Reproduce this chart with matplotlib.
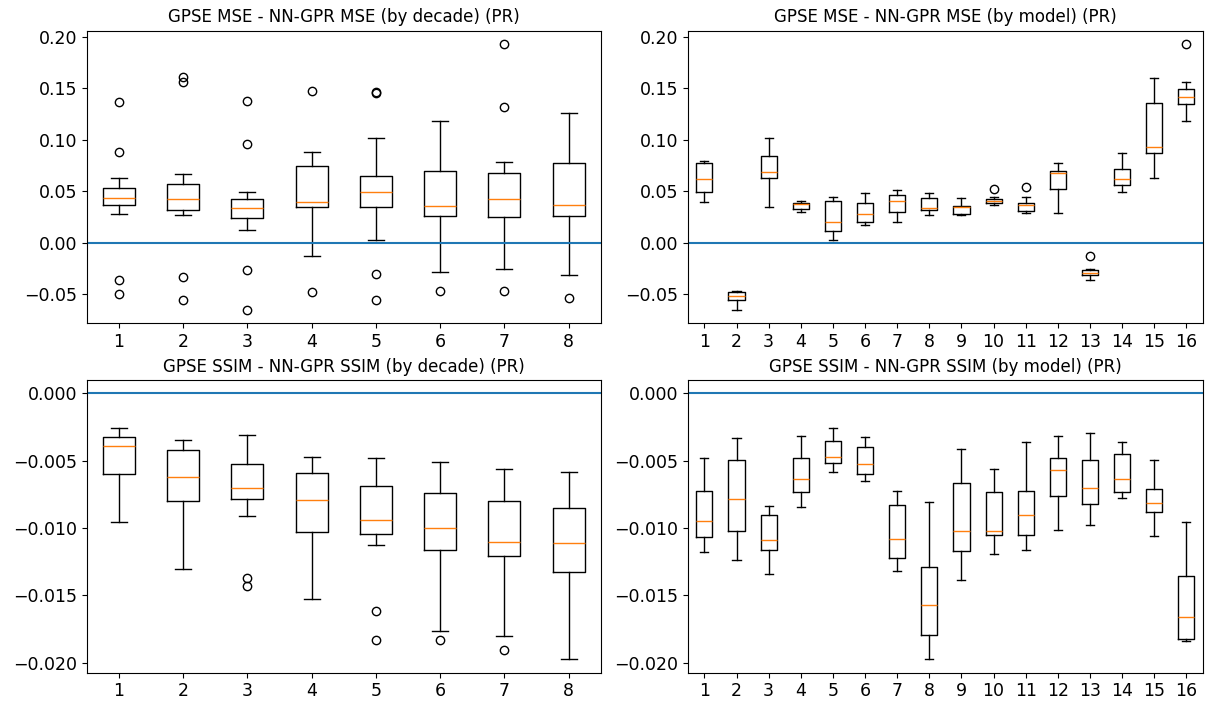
import matplotlib
matplotlib.use("Agg")
import matplotlib.pyplot as plt

# ---- data (whislo, q1, med, q3, whishi) ----
mse_decade_stats = [
    (0.0277, 0.0364, 0.0432, 0.0528, 0.0634),
    (0.0267, 0.0316, 0.0422, 0.0567, 0.0667),
    (0.0122, 0.0238, 0.0335, 0.0422, 0.0490),
    (-0.0129, 0.0351, 0.0393, 0.0741, 0.0886),
    (0.0029, 0.0351, 0.0490, 0.0644, 0.1014),
    (-0.0283, 0.0264, 0.0354, 0.0702, 0.1185),
    (-0.0254, 0.0254, 0.0422, 0.0673, 0.0789),
    (-0.0312, 0.0264, 0.0364, 0.0779, 0.1262),
]
mse_decade_fliers = [
    [0.1369, 0.0886, -0.0357, -0.0496],
    [0.1607, 0.1559, -0.0329, -0.0554],
    [0.1378, 0.0963, -0.0261, -0.0651],
    [0.1475, -0.0477],
    [0.1465, 0.1456, -0.0303, -0.0554],
    [-0.0467],
    [0.1929, 0.1320, -0.0467],
    [-0.0535],
]

mse_model_stats = [
    (0.0393, 0.0490, 0.0615, 0.0779, 0.0792),
    (-0.0651, -0.0554, -0.0512, -0.0477, -0.0467),
    (0.0345, 0.0634, 0.0692, 0.0847, 0.1014),
    (0.0296, 0.0325, 0.0374, 0.0383, 0.0403),
    (0.0029, 0.0113, 0.0200, 0.0403, 0.0441),
    (0.0171, 0.0200, 0.0277, 0.0383, 0.0480),
    (0.0200, 0.0296, 0.0403, 0.0461, 0.0509),
    (0.0267, 0.0316, 0.0335, 0.0432, 0.0480),
    (0.0267, 0.0277, 0.0345, 0.0354, 0.0432),
    (0.0364, 0.0383, 0.0403, 0.0428, 0.0441),
    (0.0287, 0.0306, 0.0364, 0.0383, 0.0441),
    (0.0287, 0.0519, 0.0673, 0.0702, 0.0779),
    (-0.0361, -0.0312, -0.0293, -0.0264, -0.0254),
    (0.0490, 0.0557, 0.0615, 0.0712, 0.0876),
    (0.0634, 0.0876, 0.0928, 0.1359, 0.1601),
    (0.1185, 0.1349, 0.1417, 0.1494, 0.1565),
]
mse_model_fliers = [[], [], [], [], [], [], [], [], [],
                    [0.0519], [0.0538], [], [-0.0129], [], [], [0.1929]]

ssim_decade_stats = [
    (-0.00956, -0.00601, -0.00394, -0.00328, -0.00254),
    (-0.01303, -0.00800, -0.00623, -0.00421, -0.00347),
    (-0.00909, -0.00786, -0.00702, -0.00527, -0.00313),
    (-0.01530, -0.01030, -0.00793, -0.00594, -0.00470),
    (-0.01128, -0.01044, -0.00941, -0.00690, -0.00483),
    (-0.01761, -0.01163, -0.01000, -0.00741, -0.00512),
    (-0.01803, -0.01207, -0.01103, -0.00800, -0.00562),
    (-0.01975, -0.01325, -0.01111, -0.00852, -0.00586),
]
ssim_decade_fliers = [[], [], [-0.01372, -0.01433], [],
                      [-0.01613, -0.01833], [-0.01833], [-0.01906], []]

ssim_model_stats = [
    (-0.01177, -0.01067, -0.00948, -0.00722, -0.00483),
    (-0.01236, -0.01022, -0.00786, -0.00498, -0.00335),
    (-0.01340, -0.01163, -0.01089, -0.00904, -0.00835),
    (-0.00845, -0.00734, -0.00638, -0.00478, -0.00320),
    (-0.00586, -0.00520, -0.00475, -0.00357, -0.00254),
    (-0.00653, -0.00601, -0.00527, -0.00401, -0.00328),
    (-0.01318, -0.01222, -0.01081, -0.00830, -0.00722),
    (-0.01975, -0.01796, -0.01569, -0.01288, -0.00808),
    (-0.01384, -0.01170, -0.01022, -0.00667, -0.00416),
    (-0.01192, -0.01054, -0.01022, -0.00734, -0.00564),
    (-0.01163, -0.01052, -0.00904, -0.00722, -0.00365),
    (-0.01015, -0.00764, -0.00571, -0.00483, -0.00320),
    (-0.00978, -0.00823, -0.00702, -0.00498, -0.00298),
    (-0.00778, -0.00734, -0.00638, -0.00448, -0.00365),
    (-0.01060, -0.00882, -0.00816, -0.00712, -0.00498),
    (-0.01835, -0.01820, -0.01658, -0.01357, -0.00956),
]
ssim_model_fliers = [[] for _ in range(16)]

titles = [
    "GPSE MSE - NN-GPR MSE (by decade) (PR)",
    "GPSE MSE - NN-GPR MSE (by model) (PR)",
    "GPSE SSIM - NN-GPR SSIM (by decade) (PR)",
    "GPSE SSIM - NN-GPR SSIM (by model) (PR)",
]


def make_stats(five, fliers):
    out = []
    for i, (lo, q1, med, q3, hi) in enumerate(five):
        out.append(dict(whislo=lo, q1=q1, med=med, q3=q3, whishi=hi,
                        fliers=fliers[i], label=str(i + 1)))
    return out


W, H = 1211, 711
fig = plt.figure(figsize=(W / 100, H / 100), dpi=100)

# axes boxes in pixels (left, top, right, bottom)
boxes = [
    (86.7, 30.7, 600.7, 323.3),
    (688.3, 30.7, 1202.5, 323.3),
    (86.7, 380.0, 600.7, 672.7),
    (688.3, 380.0, 1202.5, 672.7),
]
panels = [
    (mse_decade_stats, mse_decade_fliers),
    (mse_model_stats, mse_model_fliers),
    (ssim_decade_stats, ssim_decade_fliers),
    (ssim_model_stats, ssim_model_fliers),
]

for (l, t, r, b), (five, fl), title in zip(boxes, panels, titles):
    ax = fig.add_axes([l / W, 1 - b / H, (r - l) / W, (b - t) / H])
    ax.bxp(make_stats(five, fl))
    ax.axhline(0)
    ax.set_title(title, fontsize=12)
    ax.tick_params(labelsize=12.5)

fig.savefig("out.png", dpi=100)
